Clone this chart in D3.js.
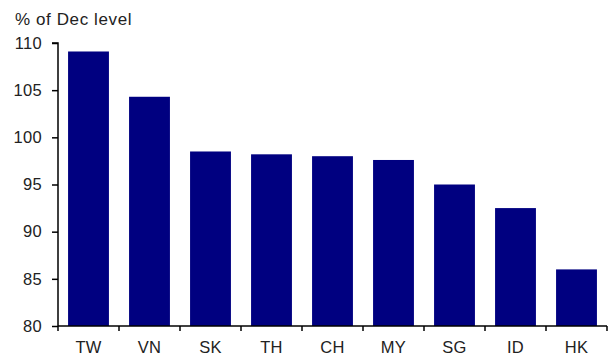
<!DOCTYPE html>
<html>
<head>
<meta charset="utf-8">
<script src="https://cdn.jsdelivr.net/npm/d3@7"></script>
<style>
  body { margin: 0; background: #fff; }
  svg { display: block; font-family: "Liberation Sans", Arial, sans-serif; }
</style>
</head>
<body>
<svg width="611" height="356"></svg>
<script>
// chart data
const countries = ['TW', 'VN', 'SK', 'TH', 'CH', 'MY', 'SG', 'ID', 'HK'];
const values = [109.1, 104.3, 98.5, 98.2, 98.0, 97.6, 95.0, 92.5, 86.0];
const yTicks = [80, 85, 90, 95, 100, 105, 110];

const svg = d3.select('svg');
const margin = { left: 58, right: 4, top: 43, bottom: 30 };
const width = +svg.attr('width'),
  height = +svg.attr('height');

const x = d3.scaleBand()
  .domain(countries)
  .range([margin.left, width - margin.right])
  .paddingInner(0.33)
  .paddingOuter(0.165);

const y = d3.scaleLinear()
  .domain([80, 110])
  .range([height - margin.bottom, margin.top]);

svg.append('g')
  .selectAll('rect')
  .data(countries)
  .enter().append('rect')
  .attr('x', d => x(d))
  .attr('width', x.bandwidth())
  .attr('y', (d, i) => y(values[i]))
  .attr('height', (d, i) => y(80) - y(values[i]))
  .attr('fill', '#000080');

// y axis
const yAxis = svg.append('g')
  .attr('transform', `translate(${margin.left},0)`)
  .call(d3.axisLeft(y).tickValues(yTicks).tickSize(6).tickPadding(10));
yAxis.select('.domain').attr('d', `M-6,${y(110)}H0V${y(80)}`);

// x axis with ticks between categories
const xAxis = svg.append('g')
  .attr('transform', `translate(0,${y(80)})`)
  .call(d3.axisBottom(x).tickSize(0).tickPadding(15));
xAxis.select('.domain').attr('d', `M${margin.left},0H${width - margin.right}`);
const step = x.step();
xAxis.append('g')
  .selectAll('line')
  .data(d3.range(countries.length + 1))
  .enter().append('line')
  .attr('x1', i => margin.left + i * step)
  .attr('x2', i => margin.left + i * step)
  .attr('y1', 0)
  .attr('y2', 5)
  .attr('stroke', '#000')
  .attr('stroke-width', 1.5);

svg.selectAll('.domain, .tick line').attr('stroke', '#000').attr('stroke-width', 1.5);
svg.selectAll('.tick text').attr('font-size', 16.5).attr('fill', '#222').attr('letter-spacing', 0.3);

svg.append('text')
  .attr('x', 15)
  .attr('y', 25)
  .attr('font-size', 17)
  .attr('letter-spacing', 0.6)
  .attr('fill', '#222')
  .text('% of Dec level');
</script>
</body>
</html>
